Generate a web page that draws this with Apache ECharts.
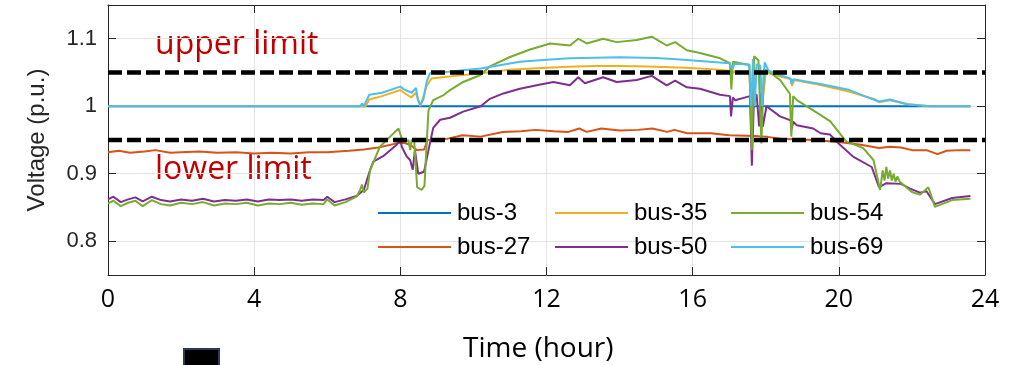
<!DOCTYPE html>
<html>
<head>
<meta charset="utf-8">
<script src="https://cdn.jsdelivr.net/npm/echarts@6/dist/echarts.min.js"></script>
<style>html,body{margin:0;padding:0;background:#fff;}#c{width:1023px;height:365px;}</style>
</head>
<body>
<div id="c"></div>
<script>
// ---- data: [hour, voltage p.u.] ----
const bus3 = [[0,1.0],[6,1.0],[12,1.0],[18,1.0],[23.6,1.0]];
const bus27 = [[0,0.932],[0.3,0.934],[0.6,0.931],[1.0,0.933],[1.3,0.935],[1.7,0.931],[2.0,0.932],[2.5,0.933],[3.0,0.931],[3.5,0.932],[4.0,0.930],[4.5,0.931],[5.0,0.930],[5.5,0.932],[6.0,0.932],[6.3,0.933],[6.6,0.934],[7.0,0.936],[7.4,0.939],[7.9,0.945],[8.1,0.946],[8.3,0.942],[8.45,0.935],[8.65,0.936],[8.75,0.950],[9.3,0.952],[9.7,0.957],[10.2,0.955],[10.8,0.962],[11.3,0.963],[11.7,0.965],[12.2,0.963],[12.6,0.962],[12.9,0.967],[13.1,0.962],[13.5,0.967],[14.0,0.964],[14.5,0.965],[14.9,0.967],[15.3,0.962],[15.5,0.965],[15.85,0.960],[16.5,0.960],[17.0,0.957],[17.7,0.956],[18.0,0.955],[18.4,0.952],[19.3,0.950],[20.0,0.947],[20.6,0.943],[21.1,0.938],[21.4,0.940],[21.7,0.939],[22.0,0.935],[22.4,0.935],[22.7,0.929],[22.95,0.934],[23.3,0.935],[23.6,0.935]];
const bus35 = [[0,1.0],[6.9,1.0],[7.05,1.0],[7.15,1.01],[7.5,1.015],[8.0,1.024],[8.1,1.02],[8.3,1.013],[8.42,1.02],[8.55,1.0],[8.72,1.03],[8.85,1.041],[9.5,1.045],[10.2,1.049],[11.0,1.054],[12.0,1.057],[12.6,1.0585],[13.3,1.0595],[14.0,1.0598],[14.8,1.059],[15.8,1.057],[16.5,1.055],[17.0,1.0527],[17.1,1.049],[17.15,1.052],[17.55,1.05],[17.6,1.0],[17.68,1.055],[17.85,1.05],[17.9,1.0],[18.0,1.05],[18.4,1.044],[18.7,1.040],[18.72,1.03],[18.78,1.039],[19.5,1.0315],[20.3,1.0216],[21.0,1.01],[21.1,1.006],[21.4,1.009],[21.9,1.003],[22.5,1.0],[23.6,1.0]];
const bus50 = [[0,0.862],[0.15,0.866],[0.35,0.858],[0.55,0.862],[0.75,0.865],[0.95,0.859],[1.2,0.866],[1.45,0.861],[1.7,0.859],[2.0,0.862],[2.3,0.860],[2.6,0.863],[2.9,0.859],[3.2,0.861],[3.5,0.860],[3.8,0.862],[4.1,0.859],[4.4,0.862],[4.7,0.861],[5.0,0.862],[5.3,0.860],[5.6,0.862],[5.9,0.861],[6.0,0.866],[6.2,0.858],[6.5,0.862],[6.8,0.867],[7.0,0.876],[7.17,0.905],[7.26,0.918],[7.53,0.926],[7.9,0.943],[8.0,0.95],[8.04,0.94],[8.17,0.926],[8.27,0.92],[8.34,0.906],[8.4,0.935],[8.49,0.90],[8.65,0.903],[8.77,0.935],[8.9,0.968],[9.09,0.98],[9.36,0.983],[9.72,0.992],[10.2,1.0],[10.45,1.011],[10.82,1.019],[11.27,1.026],[11.73,1.031],[12.19,1.036],[12.64,1.031],[12.87,1.043],[13.05,1.034],[13.55,1.043],[13.92,1.036],[14.47,1.039],[14.88,1.045],[15.29,1.031],[15.52,1.038],[15.84,1.028],[16.2,1.026],[16.75,1.017],[17.02,1.015],[17.05,0.985],[17.1,1.013],[17.16,1.009],[17.57,1.015],[17.62,0.912],[17.68,1.017],[17.75,1.017],[17.82,0.97],[17.87,1.02],[17.92,0.97],[18.02,1.0],[18.39,0.985],[18.68,0.979],[18.71,0.966],[18.75,0.977],[18.85,0.972],[19.3,0.967],[19.5,0.96],[19.76,0.958],[20.03,0.943],[20.4,0.925],[20.9,0.91],[21.1,0.88],[21.3,0.886],[21.7,0.885],[21.95,0.878],[22.22,0.872],[22.4,0.874],[22.63,0.855],[23.1,0.864],[23.6,0.867]];
const bus54 = [[0,0.856],[0.15,0.86],[0.35,0.852],[0.55,0.857],[0.75,0.86],[0.95,0.852],[1.2,0.861],[1.45,0.855],[1.7,0.853],[2.0,0.857],[2.3,0.855],[2.6,0.858],[2.9,0.853],[3.2,0.856],[3.5,0.855],[3.8,0.857],[4.1,0.853],[4.4,0.856],[4.7,0.855],[5.0,0.857],[5.3,0.854],[5.6,0.856],[5.9,0.855],[6.0,0.862],[6.2,0.853],[6.5,0.858],[6.8,0.866],[6.9,0.876],[6.95,0.884],[7.0,0.872],[7.1,0.878],[7.17,0.905],[7.44,0.94],[7.72,0.955],[7.95,0.967],[8.04,0.952],[8.13,0.947],[8.22,0.950],[8.27,0.935],[8.31,0.95],[8.38,0.948],[8.46,0.88],[8.58,0.876],[8.66,0.882],[8.77,0.994],[8.9,1.009],[9.17,1.016],[9.36,1.024],[9.72,1.036],[10.18,1.046],[10.45,1.059],[11.0,1.073],[11.55,1.084],[12.1,1.093],[12.64,1.09],[12.87,1.1],[13.1,1.093],[13.55,1.1],[13.92,1.095],[14.47,1.098],[14.88,1.103],[15.29,1.09],[15.52,1.095],[15.84,1.083],[16.2,1.079],[16.75,1.071],[17.02,1.064],[17.06,1.025],[17.1,1.066],[17.55,1.061],[17.62,0.935],[17.68,1.074],[17.8,1.068],[17.88,0.945],[17.95,1.055],[18.07,1.052],[18.39,1.039],[18.66,1.0185],[18.7,0.955],[18.75,1.015],[18.85,1.009],[19.3,0.994],[19.76,0.978],[20.2,0.948],[20.67,0.938],[20.95,0.92],[21.13,0.876],[21.2,0.905],[21.25,0.89],[21.3,0.91],[21.35,0.893],[21.4,0.905],[21.45,0.89],[21.5,0.9],[21.55,0.888],[21.6,0.896],[21.67,0.888],[22.0,0.873],[22.22,0.869],[22.45,0.88],[22.63,0.851],[23.1,0.861],[23.6,0.863]];
const bus69 = [[0,1.0],[6.9,1.0],[6.95,1.004],[7.0,1.0],[7.05,1.002],[7.15,1.017],[7.5,1.02],[8.0,1.029],[8.1,1.025],[8.31,1.02],[8.43,1.027],[8.48,1.01],[8.54,1.002],[8.63,1.01],[8.72,1.036],[8.81,1.049],[9.3,1.051],[10.2,1.056],[11.27,1.066],[12.0,1.069],[12.64,1.071],[14.0,1.0725],[15.0,1.0715],[15.56,1.0696],[16.2,1.067],[17.0,1.0636],[17.08,1.056],[17.15,1.063],[17.55,1.062],[17.6,1.0],[17.65,1.07],[17.7,1.0],[17.75,1.062],[17.85,1.06],[17.9,1.0],[17.97,1.065],[18.07,1.053],[18.4,1.046],[18.68,1.041],[18.7,1.033],[18.75,1.040],[19.5,1.033],[20.3,1.024],[20.7,1.015],[21.1,1.007],[21.4,1.01],[21.86,1.003],[22.5,1.0],[23.6,1.0]];
const upperLimit = [[0,1.05],[24,1.05]];
const lowerLimit = [[0,0.95],[24,0.95]];
const xTicks = [0,4,8,12,16,20,24];
const yTicks = [0.8,0.9,1.0,1.1];
const seriesNames = ['bus-3','bus-27','bus-35','bus-50','bus-54','bus-69'];
const seriesData = [bus3,bus27,bus35,bus50,bus54,bus69];
const seriesColors = ['#0072BD','#D95319','#EDB120','#7E2F8E','#77AC30','#4DBEEE'];

const chart = echarts.init(document.getElementById('c'), null, {renderer:'canvas'});
const axisCol = '#262626';
const gridCol = '#e3e3e3';

const series = seriesNames.map((n,i)=>({
  name:n, type:'line', data:seriesData[i], showSymbol:false, symbol:'none',
  lineStyle:{color:seriesColors[i], width:2}, itemStyle:{color:seriesColors[i]},
  z:2+i
}));
[upperLimit, lowerLimit].forEach((d,i)=>series.push({
  name: i? 'lower':'upper', type:'line', data:d, symbol:'none', showSymbol:false,
  lineStyle:{color:'#000', width:4.5, type:[14,5]}, z:10
}));

// legend positions (2 rows, 3 columns, column-major)
const legPos = [[378,201],[378,235],[555,201],[555,235],[731,201],[731,235]];
const legends = seriesNames.map((n,i)=>({
  data:[n], left:legPos[i][0], top:legPos[i][1], orient:'horizontal',
  icon:'rect', itemWidth:73, itemHeight:2, padding:0, selectedMode:false,
  textStyle:{fontSize:24, color:'#000', fontFamily:'Liberation Sans, Arial', padding:[0,0,0,1]},
  backgroundColor:'transparent'
}));

chart.setOption({
  animation:false,
  backgroundColor:'#fff',
  grid:{left:108, right:38, top:5, bottom:90, containLabel:false},
  legend: legends,
  xAxis:[
    {type:'value', min:0, max:24, interval:4, position:'bottom',
     axisLine:{show:true, lineStyle:{color:axisCol, width:1}},
     axisTick:{show:true, inside:true, length:8, lineStyle:{color:axisCol}},
     splitLine:{show:true, lineStyle:{color:gridCol, width:1}},
     axisLabel:{margin:12, fontSize:25, color:'#000', fontFamily:'Open Sans',
       customValues:xTicks}},
    {type:'value', min:0, max:24, interval:4, position:'top',
     axisLine:{show:true, onZero:false, lineStyle:{color:axisCol, width:1}},
     axisTick:{show:true, inside:true, length:8, lineStyle:{color:axisCol}},
     splitLine:{show:false}, axisLabel:{show:false}}
  ],
  yAxis:[
    {type:'value', min:0.75, max:1.15, position:'left',
     axisLine:{show:true, lineStyle:{color:axisCol, width:1}},
     axisTick:{show:true, inside:true, length:8, lineStyle:{color:axisCol}, customValues:yTicks},
     splitLine:{show:true, lineStyle:{color:gridCol, width:1}},
     axisLabel:{margin:11, fontSize:22, color:axisCol, fontFamily:'Liberation Sans, Arial',
       customValues:yTicks, formatter:v=>String(Math.round(v*10)/10)},
     name:'Voltage (p.u.)', nameLocation:'middle', nameGap:59, nameRotate:90,
     nameTextStyle:{fontSize:24, color:axisCol, fontFamily:'Liberation Sans, Arial'}},
    {type:'value', min:0.75, max:1.15, position:'right',
     axisLine:{show:true, onZero:false, lineStyle:{color:axisCol, width:1}},
     axisTick:{show:true, inside:true, length:8, lineStyle:{color:axisCol}, customValues:yTicks},
     splitLine:{show:false}, axisLabel:{show:false}}
  ],
  series: series,
  graphic:[
    {type:'text', left:155, top:29, style:{text:'upper limit', fill:'#C00000', font:'32px "Open Sans"'}},
    {type:'text', left:155, top:154, style:{text:'lower limit', fill:'#C00000', font:'32px "Open Sans"'}},
    {type:'text', left:463, top:335, style:{text:'Time (hour)', fill:'#000', font:'28px "Open Sans"'}},
    {type:'rect', shape:{x:184, y:349, width:35, height:20}, style:{fill:'#000', stroke:'#2b3c50', lineWidth:2}}
  ]
});
</script>
</body>
</html>
